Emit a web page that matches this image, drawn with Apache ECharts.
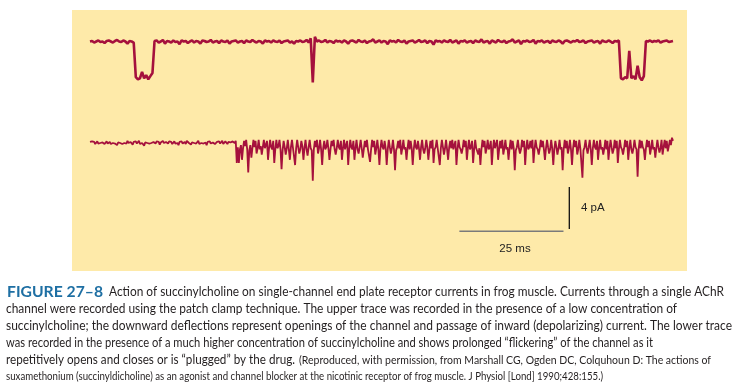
<!DOCTYPE html>
<html>
<head>
<meta charset="utf-8">
<script src="https://cdn.jsdelivr.net/npm/echarts@6/dist/echarts.min.js"></script>
<style>
html,body{margin:0;padding:0;background:#fff;}
#chart{width:738px;height:387px;}
</style>
</head>
<body>
<div id="chart"></div>
<script>
// sampling intervals (ms)
var DT_UPPER = 0.5;
var DT_LOWER = 0.25;

// upper trace: low succinylcholine concentration (pA, relative to closed level)
var upperTrace = [
  0.0, 0.05, -0.1, 0.0, 0.1, -0.05, 0.0, -0.15, 0.05, 0.1,
  0.0, -0.1, 0.05, 0.15, 0.0, -0.05, 0.1, 0.0, -0.2, 0.05,
  0.0, -0.1, -3.4, -3.6, -3.5, -2.9, -3.5, -3.2, -3.6, -3.3,
  -3.0, 0.05, 0.1, -0.1, 0.0, 0.15, -0.2, 0.05, 0.0, -0.1,
  0.1, -0.05, 0.0, -0.25, 0.1, 0.0, 0.05, -0.15, 0.0, 0.1,
  -0.1, 0.05, 0.0, -0.2, 0.1, 0.05, -0.05, 0.0, 0.15, -0.1,
  0.0, 0.05, -0.15, 0.1, 0.0, -0.05, 0.1, -0.2, 0.0, 0.05,
  0.1, -0.1, 0.0, 0.05, -0.15, 0.1, 0.0, -0.05, 0.15, 0.0,
  -0.1, 0.05, 0.0, -0.2, 0.1, 0.0, 0.05, -0.1, 0.1, 0.0,
  -0.05, 0.1, -0.15, 0.0, 0.05, 0.1, -0.1, 0.0, -0.2, 0.05,
  0.0, 0.1, -0.05, 0.0, 0.15, -0.1, 0.3, -3.9, 0.45, 0.0,
  0.1, -0.05, 0.0, 0.15, -0.1, 0.05, 0.0, -0.15, 0.1, 0.0,
  0.05, -0.1, 0.1, 0.0, -0.2, 0.05, 0.1, 0.0, -0.1, 0.15,
  0.0, -0.05, 0.1, -0.15, 0.0, 0.05, 0.2, -0.1, 0.0, 0.1,
  -0.1, 0.05, 0.0, -0.25, 0.1, 0.0, 0.05, -0.1, 0.15, 0.0,
  -0.05, 0.1, -0.2, 0.0, 0.05, 0.1, -0.1, 0.0, 0.15, -0.05,
  0.0, 0.1, -0.15, 0.05, 0.0, -0.3, 0.1, 0.0, 0.05, -0.1,
  0.1, 0.0, -0.05, 0.15, -0.1, 0.0, 0.1, -0.2, 0.05, 0.0,
  0.1, -0.1, 0.0, 0.05, -0.15, 0.1, 0.0, -0.05, 0.2, -0.1,
  0.0, 0.05, -0.2, 0.1, 0.0, -0.1, 0.15, 0.0, -0.05, 0.1,
  -0.15, 0.0, 0.05, 0.2, -0.1, 0.0, 0.1, -0.25, 0.05, 0.0,
  0.1, -0.05, 0.0, 0.15, -0.2, 0.05, 0.0, 0.1, -0.1, 0.0,
  0.05, -0.15, 0.1, 0.0, -0.05, 0.1, 0.0, -0.2, 0.05, 0.1,
  0.0, -0.1, 0.05, 0.0, 0.15, -0.05, 0.0, 0.1, -0.15, 0.0,
  0.05, 0.1, -0.1, 0.0, 0.05, -0.2, 0.1, 0.0, -0.05, 0.1,
  0.0, -0.15, 0.05, 0.0, 0.1, -3.5, -3.6, -3.4, -3.5, -0.9,
  -3.5, -3.3, -3.6, -2.3, -3.4, -3.7, -3.3, 0.05, 0.0, 0.1,
  -0.05, 0.05, 0.0, 0.1, -0.1, 0.0, 0.05, 0.1, -0.05, 0.0,
  0.05
];

// lower trace: high succinylcholine concentration, flickering (pA)
var lowerTrace = [
  0.1, -0.05, 0.15, 0.0, 0.1, -0.1, 0.05, 0.15, -0.05, 0.1, 0.0, -0.15, 0.05, 0.1, -0.1, 0.0, 0.15, -0.05, 0.05, 0.1,
  -0.1, 0.05, 0.0, 0.15, -0.05, 0.1, -0.2, 0.05, 0.1, 0.0, 0.15, -0.1, 0.05, 0.0, 0.1, -0.05, 0.2, 0.0, -0.1, 0.1,
  0.05, -0.15, 0.1, 0.0, 0.15, -0.05, 0.05, 0.2, -0.1, 0.05, 0.0, 0.1, -0.25, 0.05, 0.1, 0.0, 0.15, -0.05, 0.1, 0.0,
  -0.1, 0.1, 0.05, -0.05, 0.15, 0.0, 0.1, -0.15, 0.05, 0.1, 0.2, 0.0, -0.1, 0.1, 0.05, -0.05, 0.15, 0.0, 0.1, -0.1,
  0.05, 0.15, -0.05, 0.1, 0.0, -0.2, 0.1, 0.05, 0.15, -0.05, 0.0, 0.1, -0.1, 0.2, 0.05, 0.0, 0.1, -0.15, 0.05, 0.1,
  0.0, 0.15, -0.05, 0.1, 0.2, -0.1, 0.05, 0.0, 0.15, -0.05, 0.1, 0.05, -0.2, 0.1, 0.0, 0.15, -0.05, 0.1, 0.05, 0.2,
  -0.1, 0.05, 0.1, 0.0, 0.15, -0.05, 0.1, 0.2, -0.1, 0.05, 0.15, 0.0, -0.1, 0.1, 0.2, 0.05, -0.05, 0.15, 0.1, 0.0,
  0.2, -1.9, -0.4, -1.9, -0.6, -0.2, -1.6, -0.5, 0.2, -0.3, 0.3, -0.6, -2.8, -0.7, -0.2, -1.4, -0.5, 0.3, -0.4, 0.2,
  -1.0, -0.5, 0.3, -0.6, -0.3, -1.1, -0.4, 0.3, -0.5, -0.6, 0.2, -1.6, -0.5, 0.3, -0.4, -0.6, 0.2, -1.9, -0.6, 0.3,
  -0.5, -0.3, 0.3, -0.6, -2.5, -0.7, 0.2, -0.4, -1.1, -0.5, 0.3, -0.6, -1.6, -0.4, 0.3, -0.5, -0.6, -2.1, -0.5, 0.3,
  -0.4, -1.0, -0.6, 0.2, -0.3, -1.6, -0.5, 0.3, -0.6, -1.2, -0.4, 0.3, -0.5, -0.7, -3.6, -0.6, 0.2, -0.4, 0.3, -1.0,
  -0.5, 0.3, -0.6, -2.1, -0.5, 0.2, -0.6, -0.4, 0.3, -0.5, -1.6, -0.6, 0.2, -0.3, 0.3, -0.6, -1.1, -0.5, 0.3, -0.4,
  -0.6, 0.2, -1.6, -0.5, 0.3, -0.6, -0.5, 0.2, -2.1, -0.6, 0.3, -0.4, -0.6, 0.2, -1.6, -0.5, 0.3, -0.6, -1.0, -0.4,
  0.3, -0.5, -1.4, -0.6, 0.2, -0.4, 0.3, -0.6, -0.5, -1.8, -0.6, 0.3, -0.4, 0.2, -1.1, -0.5, 0.3, -0.6, -2.1, -0.5,
  0.3, -0.4, -0.6, 0.2, -0.5, -2.1, -0.6, 0.3, -0.4, -1.0, -0.5, 0.3, -0.6, -2.6, -0.7, -0.4, 0.2, -0.5, 0.3, -1.1,
  -0.5, 0.3, -0.6, -0.4, -1.6, -0.5, 0.3, -0.6, 0.2, -0.5, -2.1, -0.6, 0.3, -0.4, -0.6, 0.2, -0.5, -1.6, -0.4, 0.3,
  -0.6, -1.0, -0.5, 0.3, -0.4, -1.6, -0.6, 0.2, -0.5, 0.3, -1.9, -0.6, -0.4, 0.3, -0.5, -0.6, -2.1, -0.5, 0.3, -0.4,
  -1.1, -0.5, 0.3, -0.6, -1.6, -0.4, 0.2, -0.5, 0.3, -0.6, -0.5, 0.2, -2.1, -0.6, 0.3, -0.4, -0.6, -1.0, -0.5, 0.3,
  -0.4, 0.2, -1.6, -0.5, 0.3, -0.6, -0.4, 0.2, -1.9, -0.6, 0.3, -0.5, -0.4, -1.1, -0.5, -2.1, -0.6, 0.3, -0.4, 0.2,
  -1.0, -0.5, 0.3, -0.6, -0.4, 0.2, -2.1, -0.6, 0.3, -0.5, -0.4, 0.3, -1.6, -0.6, 0.2, -0.5, 0.3, -1.1, -0.5, 0.3,
  -0.6, -0.4, -1.6, -0.5, 0.3, -0.6, 0.2, -0.5, -2.6, -0.7, -0.4, 0.3, -0.5, -1.0, -0.6, 0.3, -0.4, 0.2, -2.1, -0.5,
  0.3, -0.6, -0.4, 0.2, -0.5, 0.3, -1.9, -0.6, 0.3, -0.4, -0.6, -1.1, -0.5, 0.3, -0.4, 0.2, -0.6, -1.6, -0.5, 0.3,
  -0.4, -1.0, -0.6, 0.3, -0.5, -2.1, -0.6, 0.2, -0.4, -1.1, -0.5, 0.3, -0.6, -0.4, -2.6, -0.6, 0.3, -0.5, 0.2, -1.0,
  -0.5, 0.3, -0.6, -2.1, -0.5, 0.3, -0.4, 0.2, -1.1, -0.6, 0.3, -0.5, -0.6, -3.3, -0.7, -0.4, 0.3, -0.5, -1.0, -0.4,
  0.3, -0.6, -2.1, -0.5, 0.3, -0.4, -0.6, 0.2, -1.6, -0.5, 0.3, -0.6, -0.4, -1.1, -0.5, 0.3, -0.6, 0.2, -1.6, -0.5,
  0.3, -0.4, -1.0, -0.6, 0.3, -0.5, 0.2, -1.9, -0.6, 0.3, -0.4, -0.6, -1.1, -0.5, 0.3, -0.4, 0.2, -1.6, -0.5, 0.3,
  -0.6, -1.0, -0.5, 0.3, -0.4, -0.6, -3.2, -0.6, 0.3, -0.5, 0.2, -0.4, -0.6, -1.6, -0.5, 0.3, -0.4, 0.2, -1.1, -0.5,
  0.3, -0.6, -0.4, -1.4, -0.5, 0.3, -0.4, -0.9, -0.5, 0.3, -1.1, -0.4, 0.3, -0.5, 0.2, -0.8, -0.3, 0.3, -0.2, 0.5,
  0.2
];

// scale bars
var scaleTimeMs = 25;
var scaleCurrentPa = 4;
var scaleLabels = ['4 pA', '25 ms'];

// caption
var captionTitle = 'FIGURE 27\u20138';
var captionLines = [
  'Action of succinylcholine on single-channel end plate receptor currents in frog muscle. Currents through a single AChR',
  'channel were recorded using the patch clamp technique. The upper trace was recorded in the presence of a low concentration of',
  'succinylcholine; the downward deflections represent openings of the channel and passage of inward (depolarizing) current. The lower trace',
  'was recorded in the presence of a much higher concentration of succinylcholine and shows prolonged \u201cflickering\u201d of the channel as it',
  'repetitively opens and closes or is \u201cplugged\u201d by the drug.'
];
var creditLines = [
  '(Reproduced, with permission, from Marshall CG, Ogden DC, Colquhoun D: The actions of',
  'suxamethonium (succinyldicholine) as an agonist and channel blocker at the nicotinic receptor of frog muscle. J Physiol [Lond] 1990;428:155.)'
];

function toPairs(arr, dt) {
  var out = [];
  for (var i = 0; i < arr.length; i++) out.push([i * dt, arr[i]]);
  return out;
}

var chart = echarts.init(document.getElementById('chart'), null, {renderer: 'canvas'});

var TRACE = '#a5113d';
var FAM = 'Lato, "Open Sans", sans-serif';
var MAIN_FONT = '12.8px ' + FAM;
var CREDIT_FONT = '11px ' + FAM;
var TITLE_FONT = 'bold 16px ' + FAM;
var TEXT_COL = '#231f20';
var barX0 = 88.7, barY = -8.4, vBarX = 115.1, vBarTop = -4.2;

var measureCtx = document.createElement('canvas').getContext('2d');
function textW(t, font) { measureCtx.font = font; return measureCtx.measureText(t).width; }

// caption text element fitted horizontally between left and right pixel positions
function captionText(t, font, color, left, right, y) {
  var w = textW(t, font);
  return {type: 'text', silent: true, x: left, y: y, scaleX: (right - left) / w, scaleY: 1,
    style: {text: t, font: font, fill: color, verticalAlign: 'middle'}};
}

var lineY = [292, 309, 326, 343, 359.5, 376];
var graphics = [
  {type: 'rect', silent: true, z: -10, shape: {x: 72, y: 10, width: 615, height: 261}, style: {fill: '#feeaa9'}},
  {type: 'text', silent: true, x: 581, y: 208, style: {text: scaleLabels[0], font: '11.5px "Liberation Sans", Arial, sans-serif', fill: '#222', verticalAlign: 'middle'}},
  {type: 'text', silent: true, x: 515, y: 249, style: {text: scaleLabels[1], font: '11.5px "Liberation Sans", Arial, sans-serif', fill: '#222', align: 'center', verticalAlign: 'middle'}},
  captionText(captionTitle, TITLE_FONT, '#1e6fa3', 7, 103, lineY[0]),
  captionText(captionLines[0], MAIN_FONT, TEXT_COL, 109, 724, lineY[0]),
  captionText(captionLines[1], MAIN_FONT, TEXT_COL, 6, 677, lineY[1]),
  captionText(captionLines[2], MAIN_FONT, TEXT_COL, 6, 732, lineY[2]),
  captionText(captionLines[3], MAIN_FONT, TEXT_COL, 6, 653, lineY[3]),
  captionText(captionLines[4], MAIN_FONT, TEXT_COL, 6, 295, lineY[4]),
  captionText(creditLines[0], CREDIT_FONT, TEXT_COL, 299, 711, lineY[4] + 0.5),
  captionText(creditLines[1], CREDIT_FONT, TEXT_COL, 6, 603, lineY[5])
];

var option = {
  animation: false,
  backgroundColor: '#ffffff',
  grid: [
    {left: 90, width: 583, top: 20.5, height: 73.5},
    {left: 90, width: 583, top: 122, height: 115.5}
  ],
  xAxis: [
    {type: 'value', gridIndex: 0, min: 0, max: 140, show: false},
    {type: 'value', gridIndex: 1, min: 0, max: 140, show: false}
  ],
  yAxis: [
    {type: 'value', gridIndex: 0, min: -5, max: 2, show: false},
    {type: 'value', gridIndex: 1, min: -9, max: 2, show: false}
  ],
  graphic: graphics,
  series: [
    {type: 'line', xAxisIndex: 0, yAxisIndex: 0, data: toPairs(upperTrace, DT_UPPER), showSymbol: false, symbol: 'none',
      lineStyle: {color: TRACE, width: 2.6, join: 'bevel'}, silent: true},
    {type: 'line', xAxisIndex: 1, yAxisIndex: 1, data: toPairs(lowerTrace, DT_LOWER), showSymbol: false, symbol: 'none',
      lineStyle: {color: TRACE, width: 1.8, join: 'bevel'}, silent: true},
    {type: 'line', xAxisIndex: 1, yAxisIndex: 1, data: [[barX0, barY], [barX0 + scaleTimeMs, barY]], showSymbol: false, symbol: 'none',
      lineStyle: {color: '#7a7a7a', width: 1.6}, silent: true},
    {type: 'line', xAxisIndex: 1, yAxisIndex: 1, data: [[vBarX, vBarTop], [vBarX, vBarTop - scaleCurrentPa]], showSymbol: false, symbol: 'none',
      lineStyle: {color: '#111', width: 1.3}, silent: true}
  ]
};
chart.setOption(option);
</script>
</body>
</html>
